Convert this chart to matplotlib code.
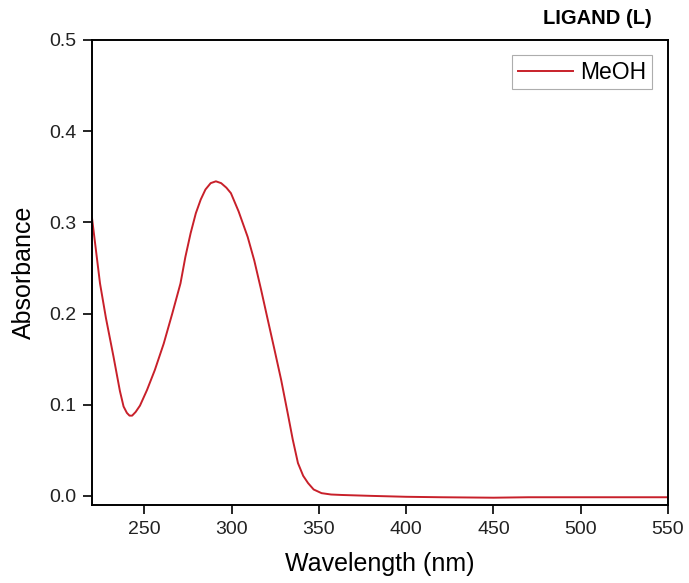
import matplotlib.pyplot as plt

plt.rcParams['font.family'] = ['Liberation Sans', 'DejaVu Sans']

# UV-Vis spectrum of ligand in MeOH
wavelength = [220, 224.6, 228, 232.3, 236, 238.1, 240, 241.5, 243, 245, 247.5, 251.5,
              256, 261.1, 266, 270.7, 273.5, 276.5, 279.5, 282.3, 285, 288, 291, 294,
              297, 299.6, 304, 309.2, 313, 316.9, 320.5, 324.6, 328.4, 332.3, 335,
              338, 341, 343.8, 347, 351.5, 357, 363, 380, 400, 420, 450, 470, 500,
              525, 550]
absorbance = [0.305, 0.233, 0.195, 0.153, 0.115, 0.098, 0.091, 0.088, 0.088, 0.092,
              0.099, 0.116, 0.138, 0.167, 0.200, 0.233, 0.262, 0.288, 0.310, 0.325,
              0.336, 0.343, 0.345, 0.343, 0.338, 0.332, 0.312, 0.284, 0.258, 0.226,
              0.195, 0.160, 0.127, 0.089, 0.062, 0.036, 0.022, 0.014, 0.007, 0.003,
              0.0015, 0.001, 0.0, -0.001, -0.0015, -0.002, -0.0015, -0.0015, -0.0015,
              -0.0015]

xticks = [250, 300, 350, 400, 450, 500, 550]
yticks = [0.0, 0.1, 0.2, 0.3, 0.4, 0.5]

fig = plt.figure(figsize=(6.89, 5.83), dpi=100)
ax = fig.add_axes([0.1335, 0.1338, 0.836, 0.7976])

ax.plot(wavelength, absorbance, color='#c8202a', lw=1.4, label='MeOH')

ax.set_xlim(220, 550)
ax.set_ylim(-0.01, 0.5)
ax.set_xticks(xticks)
ax.set_yticks(yticks)
ax.set_yticklabels([f"{v:.1f}" for v in yticks])
ax.tick_params(direction='out', length=6.5, width=1.2, pad=5, labelsize=14,
               colors='black')
ax.tick_params(labelcolor='#222222')
for s in ax.spines.values():
    s.set_linewidth(1.4)

ax.set_xlabel('Wavelength (nm)', fontsize=18, labelpad=10)
ax.set_ylabel('Absorbance', fontsize=18, labelpad=9)

leg = ax.legend(loc='upper right', fontsize=16.5, frameon=True, fancybox=False,
                edgecolor='#999999', handlelength=2.4, borderpad=0.25,
                borderaxespad=0, bbox_to_anchor=(0.972, 0.968), handletextpad=0.3)
leg.get_frame().set_linewidth(0.8)

fig.text(652 / 689, 1 - 18 / 583, 'LIGAND (L)', ha='right', va='center',
         fontsize=14.5, fontweight='bold')

fig.savefig('out.png', dpi=100)
